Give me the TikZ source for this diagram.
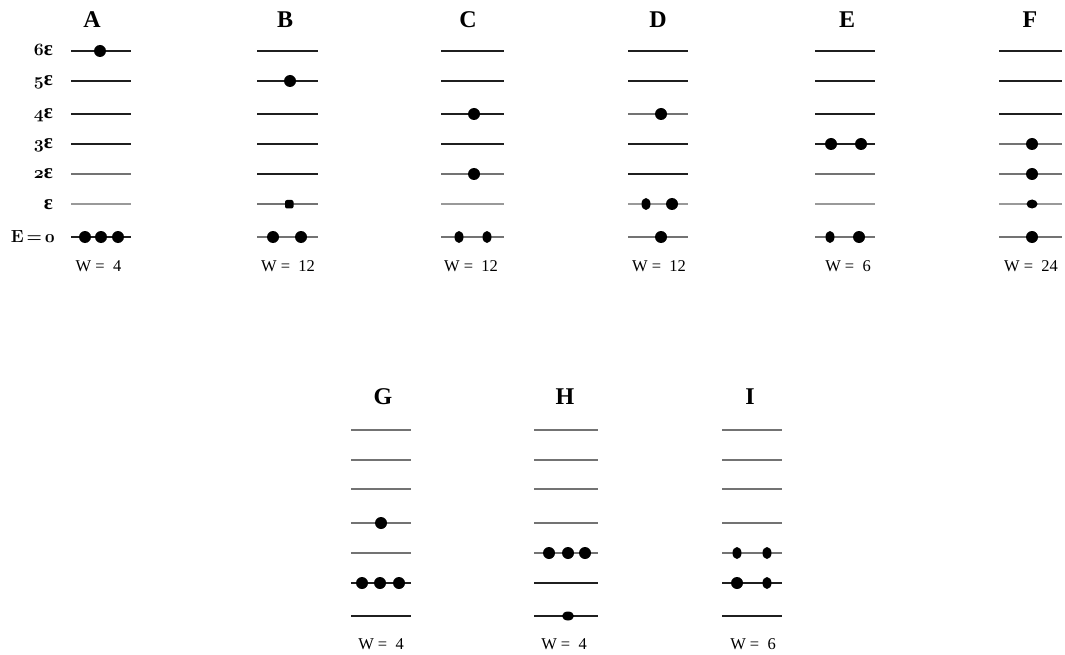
\documentclass[tikz,border=0pt]{standalone}
\usepackage{fontspec}
\newfontfamily\tnrfont{Liberation Serif}
\newcommand\osbfont{\fontencoding{OML}\fontfamily{cmm}\fontseries{b}\fontshape{it}\selectfont}
\newcommand\epsb{{\tnrfont\bfseries\fontsize{21}{22}\selectfont ɛ}}
\tikzset{
  lvk/.style={draw=black!88, line width=1.1pt},
  lvg/.style={draw=black!55, line width=1.2pt},
  lvl/.style={draw=black!40, line width=1.6pt},
  ttl/.style={font=\tnrfont\bfseries\fontsize{24}{26}\selectfont, inner sep=0pt},
  wlab/.style={font=\tnrfont\fontsize{16.5}{18}\selectfont, inner sep=0pt},
  elab/.style={anchor=base east, inner sep=0pt, font=\bfseries\fontsize{17.5}{19}\selectfont},
  dotr/.style={fill=black},
}
\begin{document}
\begin{tikzpicture}[x=1pt,y=-1pt]
\useasboundingbox (0,0) rectangle (1065,655);
% left energy labels
\node[elab] (l6) at (53,56) {{\osbfont 6}\epsb};
\node[elab] (l5) at (53,86) {{\osbfont 5}\epsb};
\node[elab] (l4) at (53,119) {{\osbfont 4}\epsb};
\node[elab] (l3) at (53,149) {{\osbfont 3}\epsb};
\node[elab] (l2) at (53,179) {{\osbfont 2}\epsb};
\node[elab] (l1) at (53,209) {\epsb};
\node[elab] (l0) at (55,242) {E\,=\,{\osbfont 0}};
% titles
\node[ttl] (tA) at (92,20) {A};
\node[ttl] (tB) at (285,20) {B};
\node[ttl] (tC) at (468,20) {C};
\node[ttl] (tD) at (658,20) {D};
\node[ttl] (tE) at (847,20) {E};
\node[ttl] (tF) at (1030,20) {F};
\node[ttl] (tG) at (383,397) {G};
\node[ttl] (tH) at (565,397) {H};
\node[ttl] (tI) at (750,397) {I};
% W labels
\node[wlab] (wA) at (98.5,266) {W =\ \ 4};
\node[wlab] (wB) at (288,266) {W =\ \ 12};
\node[wlab] (wC) at (471,266) {W =\ \ 12};
\node[wlab] (wD) at (659,266) {W =\ \ 12};
\node[wlab] (wE) at (848,266) {W =\ \ 6};
\node[wlab] (wF) at (1031,266) {W =\ \ 24};
\node[wlab] (wG) at (381,644) {W =\ \ 4};
\node[wlab] (wH) at (564,644) {W =\ \ 4};
\node[wlab] (wI) at (753,644) {W =\ \ 6};
% level lines
\foreach \y/\s in {51/lvk,81/lvk,114/lvk,144/lvk,174/lvg,204/lvl,237/lvk}
  \draw[\s] (71,\y) -- (131,\y);
\foreach \y/\s in {51/lvk,81/lvk,114/lvk,144/lvk,174/lvk,204/lvg,237/lvg}
  \draw[\s] (257,\y) -- (318,\y);
\foreach \y/\s in {51/lvk,81/lvk,114/lvk,144/lvk,174/lvg,204/lvl,237/lvg}
  \draw[\s] (441,\y) -- (504,\y);
\foreach \y/\s in {51/lvk,81/lvk,114/lvg,144/lvk,174/lvk,204/lvl,237/lvg}
  \draw[\s] (628,\y) -- (688,\y);
\foreach \y/\s in {51/lvk,81/lvk,114/lvk,144/lvk,174/lvg,204/lvl,237/lvg}
  \draw[\s] (815,\y) -- (875,\y);
\foreach \y/\s in {51/lvk,81/lvk,114/lvk,144/lvg,174/lvg,204/lvl,237/lvg}
  \draw[\s] (999,\y) -- (1062,\y);
\foreach \y/\s in {430/lvg,460/lvg,489/lvg,523/lvg,553/lvg,583/lvk,616/lvk}
  \draw[\s] (351,\y) -- (411,\y);
\foreach \y/\s in {430/lvg,460/lvg,489/lvg,523/lvg,553/lvg,583/lvk,616/lvk}
  \draw[\s] (534,\y) -- (598,\y);
\foreach \y/\s in {430/lvg,460/lvg,489/lvg,523/lvg,553/lvg,583/lvk,616/lvk}
  \draw[\s] (722,\y) -- (782,\y);
% particles
% A
\fill[dotr] (100,51) circle (6);
\foreach \x in {85,101,118} \fill[dotr] (\x,237) circle (6);
% B
\fill[dotr] (290,81) circle (6);
\fill[dotr, rounded corners=2pt] (285,200) rectangle (293.5,208.5);
\foreach \x in {273,301} \fill[dotr] (\x,237) circle (6);
% C
\fill[dotr] (474,114) circle (6);
\fill[dotr] (474,174) circle (6);
\foreach \x in {459,487} \fill[dotr] (\x,237) ellipse [x radius=4.5, y radius=6];
% D
\fill[dotr] (661,114) circle (6);
\fill[dotr] (646,204) ellipse [x radius=4.5, y radius=6];
\fill[dotr] (672,204) circle (6);
\fill[dotr] (661,237) circle (6);
% E
\foreach \x in {831,861} \fill[dotr] (\x,144) circle (6);
\fill[dotr] (830,237) ellipse [x radius=4.5, y radius=6];
\fill[dotr] (859,237) circle (6);
% F
\fill[dotr] (1032,144) circle (6);
\fill[dotr] (1032,174) circle (6);
\fill[dotr] (1032,204) ellipse [x radius=5.5, y radius=4.5];
\fill[dotr] (1032,237) circle (6);
% G
\fill[dotr] (381,523) circle (6);
\foreach \x in {362,380,399} \fill[dotr] (\x,583) circle (6);
% H
\foreach \x in {549,568,585} \fill[dotr] (\x,553) circle (6);
\fill[dotr] (568,616) ellipse [x radius=6, y radius=4.5];
% I
\foreach \x in {737,767} \fill[dotr] (\x,553) ellipse [x radius=4.5, y radius=6];
\fill[dotr] (737,583) circle (6);
\fill[dotr] (767,583) ellipse [x radius=4.5, y radius=6];
\end{tikzpicture}
\end{document}
